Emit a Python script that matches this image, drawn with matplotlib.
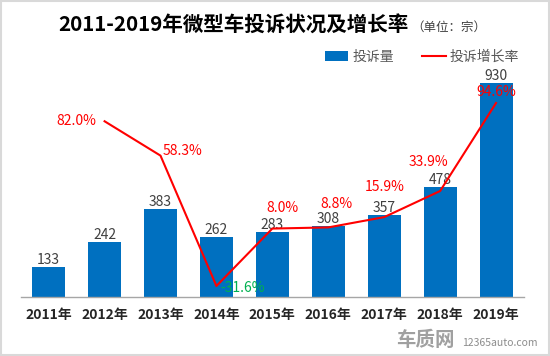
import numpy as np
import matplotlib
matplotlib.use("Agg")
import matplotlib.pyplot as plt
from matplotlib.patches import Rectangle

plt.rcParams['font.family'] = ['Noto Sans CJK SC', 'DejaVu Sans']

years = ["2011年", "2012年", "2013年", "2014年", "2015年", "2016年", "2017年", "2018年", "2019年"]
complaints = [133, 242, 383, 262, 283, 308, 357, 478, 930]
growth = [None, 82.0, 58.3, -31.6, 8.0, 8.8, 15.9, 33.9, 94.6]
growth_labels = ["", "82.0%", "58.3%", "-31.6%", "8.0%", "8.8%", "15.9%", "33.9%", "94.6%"]

BLUE = "#0070C0"
RED = "#FF0000"
GREEN = "#00B050"

fig = plt.figure(figsize=(5.5, 3.56), dpi=100)
ax = fig.add_axes([20.7 / 550, 0.1649, (524 - 20.7) / 550, 0.6525])
ax2 = ax.twinx()

x = np.arange(len(years))
bars = ax.bar(x, complaints, width=0.59, color=BLUE, label="投诉量", zorder=2)
ax.set_xlim(-0.5, 8.5)
ax.set_ylim(0, 1008)

for xi, v in zip(x, complaints):
    ax.annotate(str(v), (xi, v), xytext=(0, 0), textcoords="offset pixels",
                ha="center", va="bottom", fontsize=10, color="#404040")

gx = x[1:]
gy = [g for g in growth if g is not None]
line, = ax2.plot(gx, gy, color=RED, lw=1.5, label="投诉增长率", zorder=3)
ax2.set_ylim(-39.4, 120.8)

# label offsets in pixels relative to each point
offsets = [None, (-8, 0, "right"), (2, 5, "left"), (4, -2, "left"), (10, 21, "center"),
           (8, 23, "center"), (0, 30, "center"), (-12, 29, "center"), (0, 11, "center")]
for i in range(1, len(years)):
    dx, dy, ha = offsets[i]
    col = GREEN if growth[i] < 0 else RED
    ax2.annotate(growth_labels[i], (x[i], growth[i]), xytext=(dx, dy), textcoords="offset pixels",
                 ha=ha, va="center", fontsize=10, color=col)

ax.set_xticks(x)
ax.set_xticklabels(years, fontsize=10, fontweight="bold", color="#262626")
ax.tick_params(axis="x", length=0, pad=8)
ax.set_yticks([])
ax2.set_yticks([])
for a in (ax, ax2):
    for s in ("top", "left", "right", "bottom"):
        a.spines[s].set_visible(False)
ax.spines["bottom"].set_visible(True)
ax.spines["bottom"].set_color("#A6A6A6")
ax.spines["bottom"].set_linewidth(1)

fig.legend(handles=[bars, line], labels=["投诉量", "投诉增长率"], ncol=2, frameon=False,
           loc="center", bbox_to_anchor=(422 / 550, 1 - 57 / 356), fontsize=10,
           labelcolor="#595959", handlelength=1.7, handleheight=0.8, columnspacing=2.0,
           handletextpad=0.3)

fig.text(409 / 550, 1 - 25 / 356, "2011-2019年微型车投诉状况及增长率", ha="right", va="center",
         fontsize=14.8, fontweight="bold", color="black")
fig.text(411 / 550, 1 - 27 / 356, "（单位：宗）", ha="left", va="center", fontsize=9, color="#404040")

# watermark
fig.text(425 / 550, 1 - 340 / 356, "车质网", ha="center", va="center", fontsize=14,
         fontweight="bold", color="#A0A0A0")
fig.text(500 / 550, 1 - 343 / 356, "12365auto.com", ha="center", va="center", fontsize=7.5,
         color="#8C8C8C")

fig.patches.append(Rectangle((0.002, 0.003), 0.996, 0.994, transform=fig.transFigure,
                             fill=False, edgecolor="#D9D9D9", lw=1.5))

fig.savefig("out.png", dpi=100)
